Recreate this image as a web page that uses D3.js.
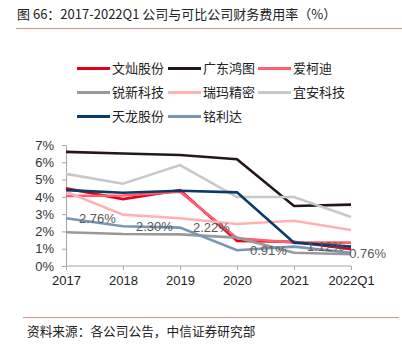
<!DOCTYPE html>
<html><head><meta charset="utf-8">
<script src="https://cdn.jsdelivr.net/npm/d3@7/dist/d3.min.js"></script>
<style>
html,body{margin:0;padding:0;background:#fff;}
svg{display:block;font-family:"Liberation Sans",Arial,"Noto Sans CJK SC",sans-serif;}
</style></head><body>
<svg id="c" width="402" height="354"></svg>
<script>
const categories = ["2017","2018","2019","2020","2021","2022Q1"];
const seriesNames = ["文灿股份","广东鸿图","爱柯迪","锐新科技","瑞玛精密","宜安科技","天龙股份","铭利达"];
const seriesColors = ["#E3001B","#231815","#FF5F6D","#999999","#FFB2B2","#C8C8C8","#0B3A6A","#7A96B4"];
const wencan   = [4.49,3.87,4.39,1.45,1.40,0.97];
const hongtu   = [6.60,6.51,6.42,6.18,3.47,3.55];
const aikedi   = [4.05,4.08,4.30,1.60,1.35,1.35];
const ruixin   = [1.95,1.85,1.83,1.64,0.77,0.68];
const ruima    = [4.30,2.97,2.76,2.43,2.62,2.08];
const yian     = [5.33,4.76,5.84,3.99,3.99,2.83];
const tianlong = [4.39,4.24,4.35,4.26,1.35,1.12];
const minglida = [2.76,2.30,2.22,0.91,1.12,0.76];
const seriesValues = [wencan,hongtu,aikedi,ruixin,ruima,yian,tianlong,minglida];
const labelValues = minglida;
const yTicks = [0,1,2,3,4,5,6,7];
const titleText = "图 66：2017-2022Q1 公司与可比公司财务费用率（%）";
const sourceText = "资料来源：各公司公告，中信证券研究部";

const svg = d3.select("#c");
const cjk = '"Noto Sans CJK SC","Liberation Sans",sans-serif';

// title
svg.append("text").attr("x",17).attr("y",19).attr("font-size",13).attr("fill","#222")
  .style("font-family",cjk).text(titleText);
svg.append("line").attr("x1",16).attr("x2",402).attr("y1",28.5).attr("y2",28.5)
  .attr("stroke","#E58A8A").attr("stroke-width",1.2);

// scales
const x = d3.scalePoint().domain(categories).range([66,351]);
const y = d3.scaleLinear().domain([0,7]).range([266,145]);
const plotRight = 386;

// legend
const leg = svg.append("g");
const colX = [77,168,258], rowY = [68.5,92.5,116.5];
seriesNames.forEach((n,i)=>{
  const cx = colX[i%3], cy = rowY[Math.floor(i/3)];
  leg.append("line").attr("x1",cx).attr("x2",cx+33).attr("y1",cy).attr("y2",cy)
    .attr("stroke",seriesColors[i]).attr("stroke-width",3);
  leg.append("text").attr("x",cx+35).attr("y",cy).attr("dy","0.36em")
    .attr("font-size",13).attr("fill","#222").style("font-family",cjk).text(n);
});

// axes
const ya = svg.append("g").attr("transform","translate(66,0)")
  .call(d3.axisLeft(y).tickValues(yTicks).tickFormat(d=>d+"%").tickSize(4).tickPadding(8));
ya.select(".domain").attr("stroke","#A6A6A6");
ya.selectAll(".tick line").attr("stroke","#A6A6A6");
ya.selectAll("text").attr("font-size",13).attr("fill","#333").style("font-family","'Liberation Sans',Arial,sans-serif");

const xa = svg.append("g").attr("transform","translate(0,266)")
  .call(d3.axisBottom(x).tickSize(4).tickPadding(6));
xa.select(".domain").attr("stroke","#A6A6A6").attr("d","M66,0H351");
xa.selectAll(".tick line").attr("stroke","#A6A6A6");
xa.selectAll("text").attr("font-size",13).attr("fill","#222").style("font-family","'Liberation Sans',Arial,sans-serif");

// lines
const line = d3.line().x((d,i)=>x(categories[i])).y(d=>y(d));
seriesValues.forEach((vals,i)=>{
  svg.append("path").datum(vals).attr("d",line).attr("fill","none")
    .attr("stroke",seriesColors[i]).attr("stroke-width",2.6).attr("stroke-linejoin","miter");
});

// data labels for 铭利达 (shifted left if they would overflow the plot area)
svg.append("g").selectAll("text").data(labelValues).join("text")
  .attr("y",d=>y(d)).attr("dy","0.36em")
  .attr("font-size",13).attr("fill","#595959")
  .text(d=>d.toFixed(2)+"%")
  .attr("x",function(d,i){
    const w = this.getComputedTextLength();
    return Math.min(x(categories[i])+13, plotRight - w);
  });

// source
svg.append("line").attr("x1",23).attr("x2",399).attr("y1",317.5).attr("y2",317.5)
  .attr("stroke","#E58A8A").attr("stroke-width",1.2);
svg.append("text").attr("x",27).attr("y",336).attr("font-size",12.7).attr("fill","#222")
  .style("font-family",cjk).text(sourceText);
</script>
</body></html>
